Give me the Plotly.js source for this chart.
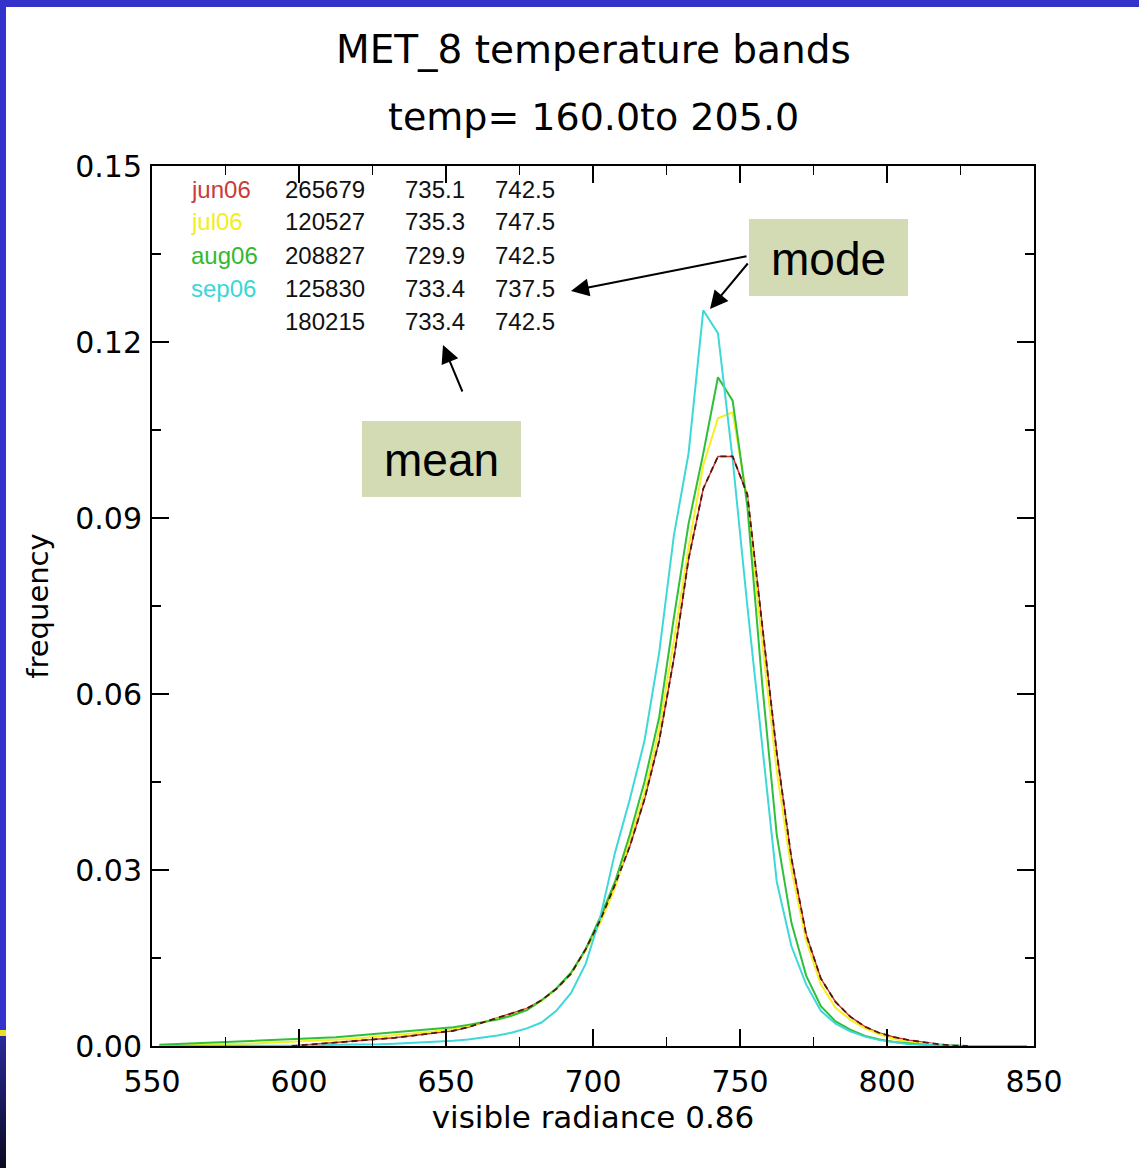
<!DOCTYPE html>
<html>
<head>
<meta charset="utf-8">
<script src="https://cdn.plot.ly/plotly-3.0.1.min.js"></script>
<style>
  html, body { margin: 0; padding: 0; }
  body { width: 1139px; height: 1168px; background: #3333cc; position: relative; overflow: hidden; }
  #chart { position: absolute; left: 6px; top: 7px; width: 1133px; height: 1161px; background: #fff; }
  #stripY { position: absolute; left: 0; top: 1030px; width: 6px; height: 6px; background: #e8e020; }
  #stripD { position: absolute; left: 0; top: 1036px; width: 6px; height: 132px; background: linear-gradient(#2a2a9a, #0a0a20); }
</style>
</head>
<body>
<div id="stripY"></div>
<div id="stripD"></div>
<div id="chart"></div>
<script>
// bin centres of the visible radiance histogram
const radiance = [552.5,557.5,562.5,567.5,572.5,577.5,582.5,587.5,592.5,597.5,
  602.5,607.5,612.5,617.5,622.5,627.5,632.5,637.5,642.5,647.5,
  652.5,657.5,662.5,667.5,672.5,677.5,682.5,687.5,692.5,697.5,
  702.5,707.5,712.5,717.5,722.5,727.5,732.5,737.5,742.5,747.5,
  752.5,757.5,762.5,767.5,772.5,777.5,782.5,787.5,792.5,797.5,
  802.5,807.5,812.5,817.5,822.5,827.5,832.5,837.5,842.5,847.5];

const jun06 = [null,null,null,null,null,null,null,null,null,0.0000,
  0.0002,0.0003,0.0005,0.0007,0.0009,0.0011,0.0014,0.0017,0.0020,0.0023,
  0.0026,0.0032,0.0040,0.0047,0.0055,0.0064,0.0078,0.0097,0.0123,0.0165,
  0.0215,0.0275,0.0340,0.0420,0.0520,0.0660,0.0830,0.0950,0.1005,0.1005,
  0.0940,0.0720,0.0500,0.0320,0.0190,0.0115,0.0075,0.0050,0.0033,0.0022,
  0.0015,0.0010,0.0006,0.0003,0.0001,0.0000,null,null,null,null];

const jul06 = [0.0001,0.0001,0.0002,0.0002,0.0003,0.0003,0.0004,0.0005,0.0006,0.0007,
  0.0008,0.0009,0.0010,0.0012,0.0014,0.0016,0.0018,0.0020,0.0023,0.0026,
  0.0029,0.0034,0.0040,0.0046,0.0053,0.0062,0.0077,0.0097,0.0123,0.0163,
  0.0210,0.0270,0.0350,0.0430,0.0540,0.0690,0.0850,0.0990,0.1070,0.1080,
  0.0930,0.0690,0.0470,0.0300,0.0180,0.0105,0.0065,0.0045,0.0030,0.0020,
  0.0012,0.0007,0.0004,0.0002,0.0001,0.0000,0.0000,0.0000,0.0000,0.0000];

const aug06 = [0.0002,0.0003,0.0004,0.0005,0.0006,0.0007,0.0008,0.0009,0.0010,0.0011,
  0.0013,0.0014,0.0015,0.0017,0.0019,0.0021,0.0023,0.0025,0.0027,0.0029,
  0.0032,0.0036,0.0040,0.0045,0.0052,0.0061,0.0078,0.0098,0.0125,0.0165,
  0.0220,0.0280,0.0360,0.0450,0.0560,0.0730,0.0890,0.1010,0.1140,0.1100,
  0.0920,0.0620,0.0360,0.0210,0.0120,0.0068,0.0042,0.0028,0.0017,0.0011,
  0.0007,0.0004,0.0002,0.0001,0.0000,0.0000,0.0000,0.0000,0.0000,0.0000];

const sep06 = [0.0000,0.0000,0.0000,0.0000,0.0000,0.0000,0.0000,0.0000,0.0000,0.0000,
  0.0001,0.0001,0.0002,0.0002,0.0003,0.0003,0.0004,0.0005,0.0006,0.0007,
  0.0009,0.0011,0.0014,0.0018,0.0023,0.0030,0.0040,0.0060,0.0090,0.0140,
  0.0220,0.0330,0.0420,0.0520,0.0670,0.0870,0.1010,0.1254,0.1215,0.1000,
  0.0750,0.0510,0.0280,0.0170,0.0105,0.0060,0.0038,0.0025,0.0016,0.0010,
  0.0006,0.0003,0.0002,0.0001,0.0000,0.0000,0.0000,0.0000,0.0000,0.0000];

// statistics table printed in the plot
const months = ['jun06','jul06','aug06','sep06',''];
const counts = ['265679','120527','208827','125830','180215'];
const means  = ['735.1','735.3','729.9','733.4','733.4'];
const modes  = ['742.5','747.5','742.5','737.5','742.5'];
const monthColors = ['#cc3a3a','#f2ee20','#33b833','#3cd6d6',''];

const xTicks = [550,600,650,700,750,800,850];
const yTicks = [0,0.03,0.06,0.09,0.12,0.15];

const traces = [
  {x: radiance, y: jun06, mode:'lines', line:{color:'#d43030', width:1.5}, hoverinfo:'skip'},
  {x: radiance, y: jul06, mode:'lines', line:{color:'#f5f020', width:2}, hoverinfo:'skip'},
  {x: radiance, y: aug06, mode:'lines', line:{color:'#2fbf3a', width:2}, hoverinfo:'skip'},
  {x: radiance, y: sep06, mode:'lines', line:{color:'#3ed8d8', width:2}, hoverinfo:'skip'},
  {x: radiance, y: jun06, mode:'lines', line:{color:'#4a1a10', width:1.8, dash:'6px,4px'}, hoverinfo:'skip'}
];

// pixel helpers relative to the plot area (plot area: page x 152..1034, y 166..1046)
const px = v => (v - 152) / 882;
const py = v => (1046 - v) / 880;

const ann = [];
ann.push({xref:'paper', yref:'paper', x:0.5, y:py(50), text:'MET_8 temperature bands', showarrow:false,
  font:{family:'DejaVu Sans', size:39, color:'#000'}, xanchor:'center', yanchor:'middle'});
ann.push({xref:'paper', yref:'paper', x:0.5, y:py(117), text:'temp= 160.0to 205.0', showarrow:false,
  font:{family:'DejaVu Sans', size:38, color:'#000'}, xanchor:'center', yanchor:'middle'});

const rowY = [189,222,255,288,321];
for (let i = 0; i < months.length; i++) {
  const f = {family:'Liberation Sans, Arial', size:24, color:'#111'};
  if (months[i]) ann.push({xref:'paper', yref:'paper', x:px(189), y:py(rowY[i]), text:months[i], showarrow:false,
    xanchor:'left', yanchor:'middle', font:{family:'Liberation Sans, Arial', size:24, color:monthColors[i]}});
  ann.push({xref:'paper', yref:'paper', x:px(367), y:py(rowY[i]), text:counts[i], showarrow:false, xanchor:'right', yanchor:'middle', font:f});
  ann.push({xref:'paper', yref:'paper', x:px(467), y:py(rowY[i]), text:means[i], showarrow:false, xanchor:'right', yanchor:'middle', font:f});
  ann.push({xref:'paper', yref:'paper', x:px(557), y:py(rowY[i]), text:modes[i], showarrow:false, xanchor:'right', yanchor:'middle', font:f});
}

// callout boxes
ann.push({xref:'paper', yref:'paper', x:px(828), y:py(259), text:'mode', showarrow:false,
  font:{family:'Liberation Sans, Arial', size:46, color:'#000'}, xanchor:'center', yanchor:'middle'});
ann.push({xref:'paper', yref:'paper', x:px(441), y:py(460), text:'mean', showarrow:false,
  font:{family:'Liberation Sans, Arial', size:46, color:'#000'}, xanchor:'center', yanchor:'middle'});

// arrows
const arrowStyle = {text:'', showarrow:true, arrowhead:2, arrowsize:1.8, arrowwidth:2, arrowcolor:'#000', standoff:0, startstandoff:0};
ann.push(Object.assign({xref:'paper', yref:'paper', x:px(571), y:py(291), ax:177, ay:-35}, arrowStyle));
ann.push(Object.assign({xref:'paper', yref:'paper', x:px(710), y:py(309), ax:39, ay:-47}, arrowStyle));
ann.push(Object.assign({xref:'paper', yref:'paper', x:px(443), y:py(345), ax:20, ay:48}, arrowStyle));

const shapes = [
  {type:'rect', xref:'paper', yref:'paper', x0:px(749), x1:px(908), y0:py(296), y1:py(219), fillcolor:'#d3dbb4', line:{width:0}, layer:'above'},
  {type:'rect', xref:'paper', yref:'paper', x0:px(362), x1:px(521), y0:py(497), y1:py(421), fillcolor:'#d3dbb4', line:{width:0}, layer:'above'}
];

const axisCommon = {
  ticks:'inside', ticklen:17, tickwidth:1.5, tickcolor:'#000',
  showline:true, linecolor:'#000', linewidth:2, mirror:'allticks',
  showgrid:false, zeroline:false,
  tickfont:{family:'DejaVu Sans', size:30, color:'#000'}
};

const layout = {
  width:1133, height:1161,
  margin:{l:146, r:105, t:159, b:122, pad:0},
  paper_bgcolor:'#fff', plot_bgcolor:'#fff',
  showlegend:false,
  xaxis: Object.assign({}, axisCommon, {
    range:[550,850], tickmode:'array', tickvals:xTicks, ticktext:xTicks.map(String),
    minor:{dtick:25, tick0:550, ticks:'inside', ticklen:9, tickwidth:1.5, tickcolor:'#000'},
    ticklabelstandoff:8,
    title:{text:'visible radiance 0.86', font:{family:'DejaVu Sans', size:31, color:'#000'}, standoff:4}
  }),
  yaxis: Object.assign({}, axisCommon, {
    range:[0,0.15], tickmode:'array', tickvals:yTicks, ticktext:yTicks.map(v => v.toFixed(2)),
    minor:{dtick:0.015, tick0:0, ticks:'inside', ticklen:9, tickwidth:1.5, tickcolor:'#000'},
    ticklabelstandoff:2,
    title:{text:'frequency', font:{family:'DejaVu Sans', size:29, color:'#000'}, standoff:18}
  }),
  annotations: ann,
  shapes: shapes
};

Plotly.newPlot('chart', traces, layout, {staticPlot:true, displayModeBar:false});
</script>
</body>
</html>
